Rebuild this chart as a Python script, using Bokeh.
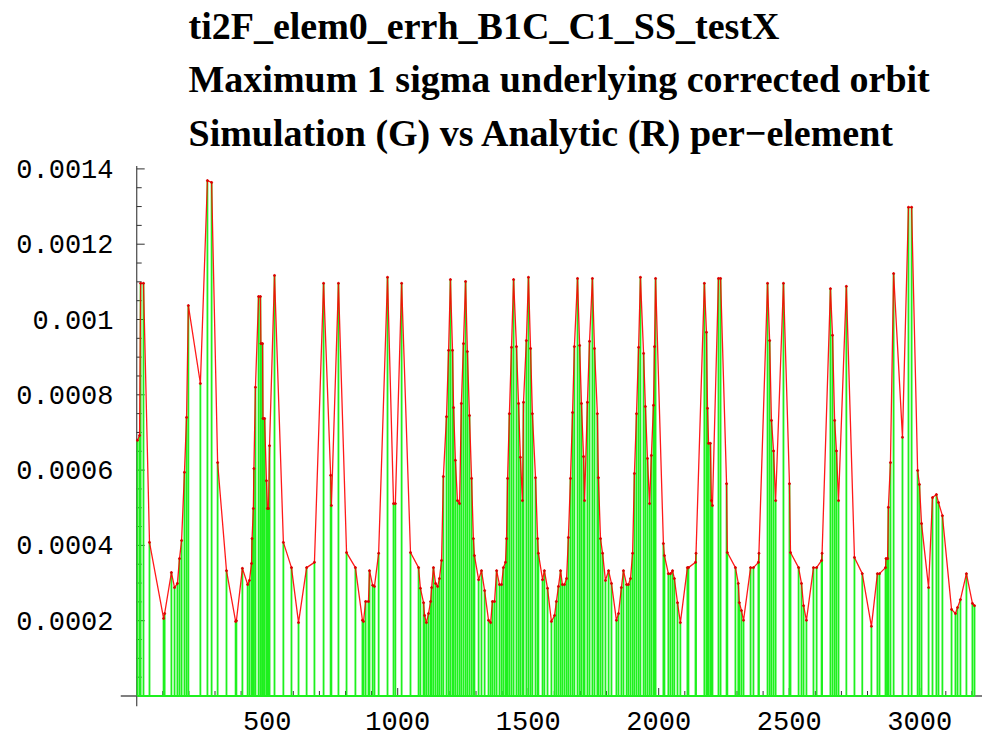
from bokeh.plotting import figure
from bokeh.models import ColumnDataSource, FixedTicker, PrintfTickFormatter, Range1d, Span
from bokeh.core.properties import value
from bokeh.embed import file_html
from bokeh.resources import INLINE

title_lines = [
    "ti2F_elem0_errh_B1C_C1_SS_testX",
    "Maximum 1 sigma underlying corrected orbit",
    "Simulation (G) vs Analytic (R) per\u2212element",
]

# element position along the line
s_pos = [
    3, 11, 15, 26, 49, 103, 107, 133, 145, 156,
    164, 172, 183, 191, 198, 244, 271, 287, 310, 344,
    379, 382, 405, 425, 432, 440, 442, 447, 449, 455,
    467, 474, 476, 482, 484, 490, 497, 501, 505, 509,
    528, 562, 593, 620, 651, 681, 716, 743, 746, 773,
    804, 838, 865, 869, 877, 888, 892, 904, 911, 927,
    961, 984, 991, 1015, 1049, 1080, 1087, 1099, 1103, 1110,
    1118, 1126, 1130, 1137, 1145, 1153, 1160, 1168, 1175, 1187,
    1195, 1202, 1210, 1214, 1221, 1229, 1237, 1244, 1252, 1260,
    1267, 1275, 1283, 1290, 1294, 1310, 1321, 1333, 1348, 1356,
    1363, 1371, 1379, 1390, 1398, 1405, 1413, 1417, 1421, 1428,
    1436, 1444, 1455, 1463, 1470, 1478, 1482, 1493, 1501, 1509,
    1516, 1528, 1536, 1539, 1555, 1562, 1574, 1589, 1601, 1608,
    1616, 1624, 1631, 1639, 1647, 1654, 1662, 1670, 1677, 1689,
    1697, 1704, 1712, 1716, 1727, 1735, 1746, 1754, 1765, 1769,
    1777, 1785, 1796, 1808, 1819, 1838, 1846, 1857, 1865, 1877,
    1884, 1892, 1900, 1907, 1915, 1923, 1930, 1942, 1949, 1957,
    1965, 1972, 1980, 1984, 1988, 2018, 2022, 2037, 2045, 2053,
    2060, 2072, 2083, 2110, 2114, 2141, 2143, 2175, 2183, 2187,
    2191, 2198, 2202, 2206, 2229, 2237, 2260, 2263, 2294, 2305,
    2309, 2317, 2325, 2352, 2363, 2382, 2384, 2417, 2425, 2432,
    2440, 2448, 2478, 2501, 2505, 2536, 2547, 2555, 2566, 2593,
    2605, 2624, 2626, 2658, 2666, 2674, 2681, 2689, 2719, 2750,
    2780, 2815, 2838, 2846, 2869, 2871, 2877, 2880, 2888, 2900,
    2934, 2957, 2969, 2992, 2999, 3007, 3034, 3049, 3064, 3072,
    3087, 3122, 3137, 3145, 3156, 3179, 3202, 3210,
]

# maximum 1-sigma corrected orbit per element
orbit = [
    6.79e-4, 6.92e-4, 10.96e-4, 10.96e-4, 4.08e-4, 2.06e-4, 2.19e-4, 3.28e-4, 2.88e-4, 2.99e-4,
    3.65e-4, 4.13e-4, 5.94e-4, 7.40e-4, 10.37e-4, 8.30e-4, 13.69e-4, 13.64e-4, 6.20e-4, 3.33e-4,
    1.98e-4, 2.00e-4, 3.39e-4, 2.96e-4, 3.07e-4, 3.52e-4, 4.18e-4, 4.98e-4, 6.04e-4, 8.20e-4,
    10.61e-4, 10.61e-4, 9.36e-4, 9.36e-4, 7.37e-4, 7.37e-4, 5.72e-4, 4.98e-4, 4.98e-4, 6.65e-4,
    11.17e-4, 4.08e-4, 3.41e-4, 1.95e-4, 3.41e-4, 3.55e-4, 10.96e-4, 5.86e-4, 5.06e-4, 10.96e-4,
    3.81e-4, 3.41e-4, 2.01e-4, 1.98e-4, 2.51e-4, 2.51e-4, 3.33e-4, 2.94e-4, 2.91e-4, 3.79e-4,
    11.12e-4, 5.11e-4, 5.11e-4, 10.96e-4, 3.81e-4, 3.41e-4, 2.86e-4, 2.48e-4, 2.14e-4, 1.95e-4,
    2.19e-4, 2.51e-4, 2.88e-4, 3.41e-4, 2.99e-4, 2.91e-4, 3.12e-4, 3.60e-4, 5.83e-4, 7.42e-4,
    9.18e-4, 11.06e-4, 9.18e-4, 7.66e-4, 6.26e-4, 5.19e-4, 5.11e-4, 7.77e-4, 9.36e-4, 11.01e-4,
    9.15e-4, 7.45e-4, 5.78e-4, 4.18e-4, 3.73e-4, 3.09e-4, 3.33e-4, 2.80e-4, 2.01e-4, 1.95e-4,
    2.51e-4, 2.51e-4, 3.33e-4, 2.96e-4, 2.96e-4, 3.41e-4, 3.55e-4, 4.18e-4, 5.78e-4, 7.50e-4,
    9.26e-4, 11.06e-4, 9.28e-4, 7.77e-4, 6.34e-4, 5.19e-4, 7.80e-4, 9.44e-4, 11.12e-4, 9.23e-4,
    7.50e-4, 5.80e-4, 4.18e-4, 3.79e-4, 3.09e-4, 3.33e-4, 2.86e-4, 1.98e-4, 2.14e-4, 2.51e-4,
    2.91e-4, 3.33e-4, 2.96e-4, 2.96e-4, 3.12e-4, 4.21e-4, 5.78e-4, 7.53e-4, 9.28e-4, 11.09e-4,
    9.31e-4, 7.77e-4, 6.36e-4, 5.19e-4, 7.80e-4, 9.42e-4, 11.09e-4, 9.23e-4, 7.50e-4, 5.80e-4,
    4.18e-4, 3.79e-4, 3.07e-4, 3.33e-4, 2.99e-4, 2.01e-4, 2.19e-4, 2.88e-4, 3.33e-4, 2.96e-4,
    2.96e-4, 3.12e-4, 3.79e-4, 5.91e-4, 7.50e-4, 9.26e-4, 11.12e-4, 9.10e-4, 7.69e-4, 6.31e-4,
    5.11e-4, 6.39e-4, 7.72e-4, 9.28e-4, 11.09e-4, 4.05e-4, 3.73e-4, 3.25e-4, 3.25e-4, 3.33e-4,
    3.12e-4, 2.48e-4, 1.95e-4, 3.41e-4, 3.41e-4, 3.55e-4, 3.79e-4, 10.96e-4, 9.66e-4, 7.64e-4,
    6.71e-4, 6.71e-4, 5.19e-4, 5.06e-4, 11.09e-4, 11.09e-4, 5.64e-4, 3.81e-4, 3.41e-4, 2.99e-4,
    2.48e-4, 2.27e-4, 2.01e-4, 3.41e-4, 3.41e-4, 3.55e-4, 3.79e-4, 10.96e-4, 9.44e-4, 7.32e-4,
    6.51e-4, 5.19e-4, 10.96e-4, 5.64e-4, 3.81e-4, 3.41e-4, 2.99e-4, 2.40e-4, 2.01e-4, 3.41e-4,
    3.41e-4, 3.60e-4, 3.79e-4, 10.82e-4, 9.58e-4, 7.32e-4, 6.51e-4, 5.19e-4, 10.88e-4, 3.68e-4,
    3.25e-4, 1.85e-4, 3.25e-4, 3.25e-4, 3.41e-4, 3.65e-4, 3.65e-4, 5.01e-4, 6.20e-4, 11.22e-4,
    6.87e-4, 12.98e-4, 12.98e-4, 5.99e-4, 5.62e-4, 4.58e-4, 2.88e-4, 5.27e-4, 5.35e-4, 5.14e-4,
    4.79e-4, 2.30e-4, 2.19e-4, 2.35e-4, 2.56e-4, 3.25e-4, 2.46e-4, 2.40e-4,
]

y_ticks = [0.0002, 0.0004, 0.0006, 0.0008, 0.001, 0.0012, 0.0014]
x_ticks = [500, 1000, 1500, 2000, 2500, 3000]
y_minor = [k * 0.00005 for k in range(1, 29) if k % 4]
x_minor = [k for k in range(100, 3300, 100) if k % 500]

# screen-to-data helpers for layout only
PX_X = 3.8314        # data units of s per pixel
PX_Y = 1 / 376500.0  # data units of orbit per pixel
Y0 = -10.5 * PX_Y
Y1 = 695.5 * PX_Y
X0 = -16.2 * PX_X
X1 = 845.8 * PX_X

src = ColumnDataSource(dict(s=s_pos, v=orbit))

p = figure(width=982, height=743, output_backend="svg", toolbar_location=None,
           x_range=Range1d(X0, X1), y_range=Range1d(Y0, Y1),
           min_border_left=120, min_border_right=0, min_border_top=0,
           min_border_bottom=37)
p.background_fill_color = "white"
p.border_fill_color = "white"
p.outline_line_color = None
p.grid.visible = False

# axes lines crossing at the origin (drawn first, under the data)
p.add_layout(Span(location=0, dimension="width", line_color="#555555",
                  line_width=1.3, level="underlay"))
p.segment(x0=0, y0=Y0, x1=0, y1=y_ticks[-1] + 3 * PX_Y, line_color="#555555",
          line_width=1.3)
# tick marks pointing inward
p.segment(x0=0, y0=y_ticks, x1=8 * PX_X, y1=y_ticks, line_color="#303030", line_width=1)
p.segment(x0=0, y0=y_minor, x1=5 * PX_X, y1=y_minor, line_color="#303030", line_width=1)
p.segment(x0=x_ticks, y0=0, x1=x_ticks, y1=8 * PX_Y, line_color="#303030", line_width=1)
p.segment(x0=x_minor, y0=0, x1=x_minor, y1=5 * PX_Y, line_color="#303030", line_width=1)

# simulation (green) per-element bars
p.segment(x0="s", y0=0, x1="s", y1="v", source=src, line_color="#1ef01e",
          line_width=1.8)
p.line(x=[s_pos[0], s_pos[-1]], y=[0, 0], line_color="#1ef01e", line_width=2)
# analytic (red)
p.line(x="s", y="v", source=src, line_color="#ff0000", line_width=1.3, line_alpha=0.9)
p.scatter(x="s", y="v", source=src, size=2, color="#dd0000")

# Bokeh axes carry the tick labels (their own lines hidden)
for ax in (p.xaxis[0], p.yaxis[0]):
    ax.axis_line_color = None
    ax.major_tick_line_color = None
    ax.minor_tick_line_color = None
    ax.major_tick_out = 0
    ax.minor_tick_out = 0
    ax.major_tick_in = 0
    ax.minor_tick_in = 0
    ax.major_label_text_font = "Liberation Mono"
    ax.major_label_text_font_size = "27px"
    ax.major_label_text_color = "black"

p.yaxis[0].ticker = FixedTicker(ticks=y_ticks)
p.yaxis[0].formatter = PrintfTickFormatter(format="%g")
p.yaxis[0].major_label_standoff = 7
p.xaxis[0].ticker = FixedTicker(ticks=x_ticks)
p.xaxis[0].formatter = PrintfTickFormatter(format="%d")
p.xaxis[0].major_label_standoff = 5

# title, three lines
title_px = [25, 78, 132]
title_x = (188 - 136.2) * PX_X
p.text(x=[title_x] * 3, y=[(695.5 - t) * PX_Y for t in title_px],
       text=title_lines, text_font=value("Liberation Serif"), text_font_style="bold",
       text_font_size="38px", text_color="black", text_baseline="alphabetic",
       text_align="left")

open("out.html", "w").write(file_html(p, INLINE))
